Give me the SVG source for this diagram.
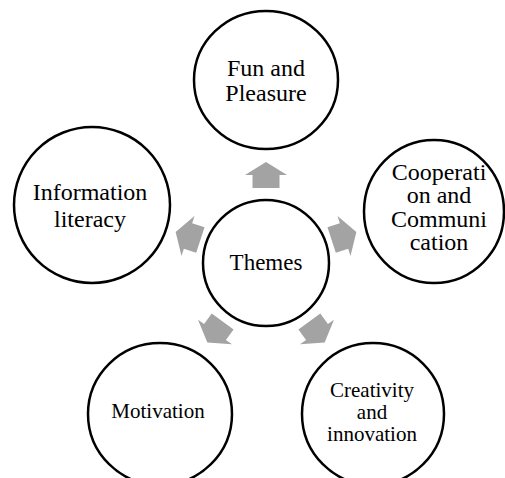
<svg xmlns="http://www.w3.org/2000/svg" width="505" height="478" viewBox="0 0 505 478">
  <style>
    .node { fill: #ffffff; stroke: #000000; stroke-width: 2.5; }
    .label { font-family: 'Liberation Serif', 'Times New Roman', 'DejaVu Serif', serif; fill: #000000; text-anchor: middle; }
    .arrow { fill: #a3a3a3; }
  </style>
  <defs>
    <!-- block arrow pointing up, centred on the origin -->
    <path id="blockArrow" d="M0,-13 L21,0 L13.5,0 L13.5,13 L-13.5,13 L-13.5,0 L-21,0 Z"/>
  </defs>
  <rect width="505" height="478" fill="#ffffff"/>

  <g id="connectors" class="arrow">
    <use href="#blockArrow" transform="translate(266,175)"/>
    <use href="#blockArrow" transform="translate(344,236) rotate(72)"/>
    <use href="#blockArrow" transform="translate(317,332) rotate(144)"/>
    <use href="#blockArrow" transform="translate(215,332) rotate(216)"/>
    <use href="#blockArrow" transform="translate(188,236) rotate(288)"/>
  </g>

  <g id="node-themes">
    <ellipse class="node" cx="266" cy="263" rx="63" ry="63"/>
    <text class="label" font-family="Liberation Serif, serif" x="266" y="270" font-size="23">Themes</text>
  </g>

  <g id="node-fun">
    <ellipse class="node" cx="266" cy="80" rx="72" ry="69"/>
    <text class="label" font-family="Liberation Serif, serif" x="266" y="76" font-size="24">Fun and</text>
    <text class="label" font-family="Liberation Serif, serif" x="266" y="101" font-size="24">Pleasure</text>
  </g>

  <g id="node-cooperation">
    <ellipse class="node" cx="434" cy="211.5" rx="70" ry="71.5"/>
    <text class="label" font-family="Liberation Serif, serif" x="439" y="180" font-size="24">Cooperati</text>
    <text class="label" font-family="Liberation Serif, serif" x="439" y="203" font-size="24">on and</text>
    <text class="label" font-family="Liberation Serif, serif" x="439" y="227" font-size="24">Communi</text>
    <text class="label" font-family="Liberation Serif, serif" x="439" y="250" font-size="24">cation</text>
  </g>

  <g id="node-creativity">
    <ellipse class="node" cx="373" cy="414" rx="71" ry="71"/>
    <text class="label" font-family="Liberation Serif, serif" x="372" y="397" font-size="21">Creativity</text>
    <text class="label" font-family="Liberation Serif, serif" x="372" y="419" font-size="21">and</text>
    <text class="label" font-family="Liberation Serif, serif" x="372" y="441" font-size="21">innovation</text>
  </g>

  <g id="node-motivation">
    <ellipse class="node" cx="160" cy="414" rx="72" ry="71"/>
    <text class="label" font-family="Liberation Serif, serif" x="158" y="418" font-size="21">Motivation</text>
  </g>

  <g id="node-information">
    <ellipse class="node" cx="92" cy="205" rx="78" ry="78"/>
    <text class="label" font-family="Liberation Serif, serif" x="90" y="200" font-size="24">Information</text>
    <text class="label" font-family="Liberation Serif, serif" x="90" y="227" font-size="24">literacy</text>
  </g>
</svg>
